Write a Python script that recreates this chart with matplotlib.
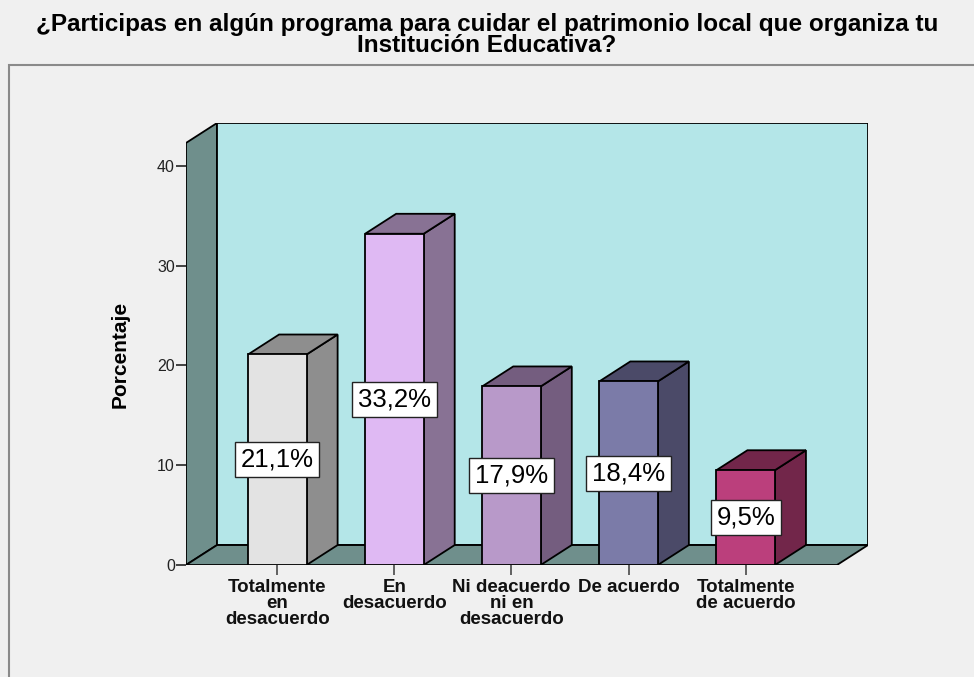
import matplotlib
matplotlib.use("Agg")
import matplotlib.pyplot as plt
from matplotlib.patches import Polygon, Rectangle

plt.rcParams['font.family'] = ['Liberation Sans', 'DejaVu Sans']

# data
categorias = ["Totalmente\nen\ndesacuerdo", "En\ndesacuerdo",
              "Ni deacuerdo\nni en\ndesacuerdo", "De acuerdo",
              "Totalmente\nde acuerdo"]
porcentajes = [21.1, 33.2, 17.9, 18.4, 9.5]
etiquetas = ["21,1%", "33,2%", "17,9%", "18,4%", "9,5%"]
color_frente = ["#e3e3e3", "#dfb9f3", "#b899c9", "#7b7ba8", "#bb3f7c"]
color_lado = ["#8e8e8e", "#887294", "#745d7f", "#4b4a68", "#72264a"]
titulo = ("¿Participas en algún programa para cuidar el patrimonio local que organiza tu\n"
          "Institución Educativa?")

fondo = "#f0f0f0"
pared = "#b4e6e8"
suelo = "#6f8f8c"

# 3d offsets (data units)
dx = 0.265
dy = 2.0
ancho = 0.5
x0, x1 = -0.78, 4.78
alto = 42.3

fig = plt.figure(figsize=(9.74, 6.77), dpi=100, facecolor=fondo)
fig.add_artist(Rectangle((9/974, -0.01), 1.0, 1 - 65/677 + 0.01,
                         transform=fig.transFigure, facecolor="none",
                         edgecolor="#8a8a8a", lw=1.5))

ax = fig.add_axes([186/974, 112/677, 682/974, 442/677])
ax.set_facecolor("none")
ax.set_xlim(x0, x1 + dx)
ax.set_ylim(0, alto + dy)
for s in ax.spines.values():
    s.set_visible(False)

lw = 1.3
# left wall
ax.add_patch(Polygon([(x0, 0), (x0, alto), (x0 + dx, alto + dy), (x0 + dx, dy)],
                     closed=True, facecolor=suelo, edgecolor="black", lw=lw, zorder=1))
# back wall
ax.add_patch(Rectangle((x0 + dx, dy), x1 - x0, alto, facecolor=pared,
                       edgecolor="black", lw=lw, zorder=1))
# floor
ax.add_patch(Polygon([(x0, 0), (x1, 0), (x1 + dx, dy), (x0 + dx, dy)],
                     closed=True, facecolor=suelo, edgecolor="black", lw=lw, zorder=2))

for i, v in enumerate(porcentajes):
    l = i - ancho / 2
    r = i + ancho / 2
    ax.add_patch(Polygon([(r, 0), (r + dx, dy), (r + dx, v + dy), (r, v)], closed=True,
                         facecolor=color_lado[i], edgecolor="black", lw=lw, zorder=3))
    ax.add_patch(Polygon([(l, v), (r, v), (r + dx, v + dy), (l + dx, v + dy)], closed=True,
                         facecolor=color_lado[i], edgecolor="black", lw=lw, zorder=3))
    ax.add_patch(Rectangle((l, 0), ancho, v, facecolor=color_frente[i],
                           edgecolor="black", lw=lw, zorder=4))
    ax.text(i, v / 2, etiquetas[i], ha="center", va="center", fontsize=18.5,
            color="black", zorder=6,
            bbox=dict(boxstyle="square,pad=0.22", facecolor="white",
                      edgecolor="#222222", lw=1.0))

ax.set_yticks([0, 10, 20, 30, 40])
ax.set_yticklabels(["0", "10", "20", "30", "40"], fontsize=11.5, color="#222222")
ax.tick_params(axis="y", length=7, width=1.3, color="#333333", pad=1)
ax.set_xticks(range(len(categorias)))
ax.set_xticklabels(categorias, fontsize=13.5, fontweight="bold",
                   linespacing=0.93, color="#111111")
ax.tick_params(axis="x", length=7, width=1.3, color="#555555", pad=3)

ax.set_ylabel("Porcentaje", fontsize=15, fontweight="bold")
ax.yaxis.set_label_coords(-0.082, 0.477)

fig.text(0.5, 1 - 35/677, titulo, ha="center", va="center", fontsize=17.5,
         fontweight="bold", linespacing=0.87)

fig.savefig("out.png", dpi=100, facecolor=fondo)
